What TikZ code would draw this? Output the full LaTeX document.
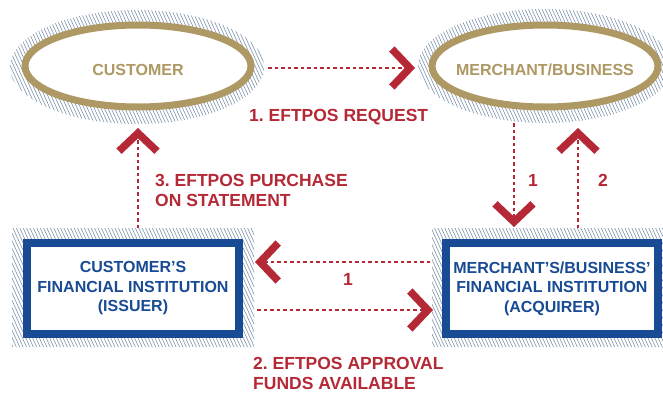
\documentclass[tikz,border=0pt]{standalone}
\usepackage{fontspec}
\setsansfont{Liberation Sans}
\usetikzlibrary{shapes.geometric,arrows.meta}
\frenchspacing

\definecolor{partygold}{RGB}{174,152,99}
\definecolor{bankblue}{RGB}{25,75,148}
\definecolor{flowred}{RGB}{181,40,54}
\definecolor{hatchgrey}{RGB}{128,148,172}

\tikzset{
  party/.style={ellipse, draw=partygold, line width=7pt, fill=white,
    minimum width=226pt, minimum height=82pt, inner sep=0pt},
  partytext/.style={inner sep=0pt, text height=18.5pt, text depth=0pt, text=partygold,
    font=\sffamily\bfseries\fontsize{16}{19.5}\selectfont},
  bank/.style={rectangle, draw=bankblue, line width=8pt, fill=white,
    minimum width=212pt, minimum height=91pt, inner sep=0pt, align=center,
    text=bankblue, font=\sffamily\bfseries\fontsize{16}{19.5}\selectfont},
  flow/.style={draw=flowred, line width=2pt, dash pattern=on 3.5pt off 3pt,
    -{Straight Barb[length=18pt,width=38pt,line width=7.5pt]}},
  steplabel/.style={text=flowred, inner sep=0pt, align=left,
    font=\sffamily\bfseries\fontsize{17.5}{20}\selectfont},
  hatch/.style={draw=hatchgrey, line width=0.6pt}
}

\begin{document}
\begin{tikzpicture}[x=1pt,y=-1pt]
    \useasboundingbox (0,0) rectangle (663,394);
    \clip (0,0) rectangle (663,394);

    % Hatched halos behind the shapes
    \begin{scope}
        \clip (137,67) ellipse [x radius=127, y radius=57]
              (545,66) ellipse [x radius=127, y radius=57]
              (12,228) rectangle (254,347)
              (432,228) rectangle (672,347);
        \foreach \x in {-200,-196.6,...,680}
            \draw[hatch] (\x,0) -- ++(180,394);
    \end{scope}

    % Parties
    \node[party, label={[partytext]center:CUSTOMER}] (customer) at (138,66) {};
    \node[party, label={[partytext]center:MERCHANT/BUSINESS}] (merchant) at (545,66) {};

    % Financial institutions
    \node[bank] (issuer) at (133,288.5) {CUSTOMER’S\\FINANCIAL INSTITUTION\\(ISSUER)};
    \node[bank] (acquirer) at (552,288.5) {MERCHANT’S/BUSINESS’\\FINANCIAL INSTITUTION\\(ACQUIRER)};

    % Request
    \draw[flow, shorten <=13.5pt, shorten >=13.5pt] ([yshift=-2pt]customer.east) -- ([yshift=-2pt]merchant.west);
    \node[steplabel, anchor=west] (request) at (249,117) {1. EFTPOS REQUEST};

    % Merchant to acquirer and back
    \coordinate (down1) at ([xshift=-38pt]acquirer.north);
    \coordinate (up2) at ([xshift=26pt]acquirer.north);
    \draw[flow, shorten <=12.5pt, shorten >=12pt] (merchant.south -| down1) -- (down1);
    \draw[flow, shorten <=11pt, shorten >=17.5pt] (up2) -- (merchant.south -| up2);
    \node[steplabel] (downlabel) at (533,180) {1};
    \node[steplabel] (uplabel) at (603,180) {2};

    % Between the institutions
    \draw[flow, shorten <=12pt, shorten >=12pt] ([yshift=26.5pt]acquirer.west) -- ([yshift=26.5pt]issuer.east);
    \draw[flow, shorten <=14pt, shorten >=9pt] ([yshift=-21.5pt]issuer.east) -- ([yshift=-21.5pt]acquirer.west);
    \node[steplabel] (backlabel) at (348,279) {1};
    \node[steplabel, anchor=west] (approval) at (253,373) {2. EFTPOS APPROVAL\\FUNDS AVAILABLE};

    % Statement
    \draw[flow, shorten <=11pt, shorten >=17.5pt] (issuer.north -| customer.south) -- (customer.south);
    \node[steplabel, anchor=west] (statement) at (155,190) {3. EFTPOS PURCHASE\\ON STATEMENT};
\end{tikzpicture}
\end{document}
